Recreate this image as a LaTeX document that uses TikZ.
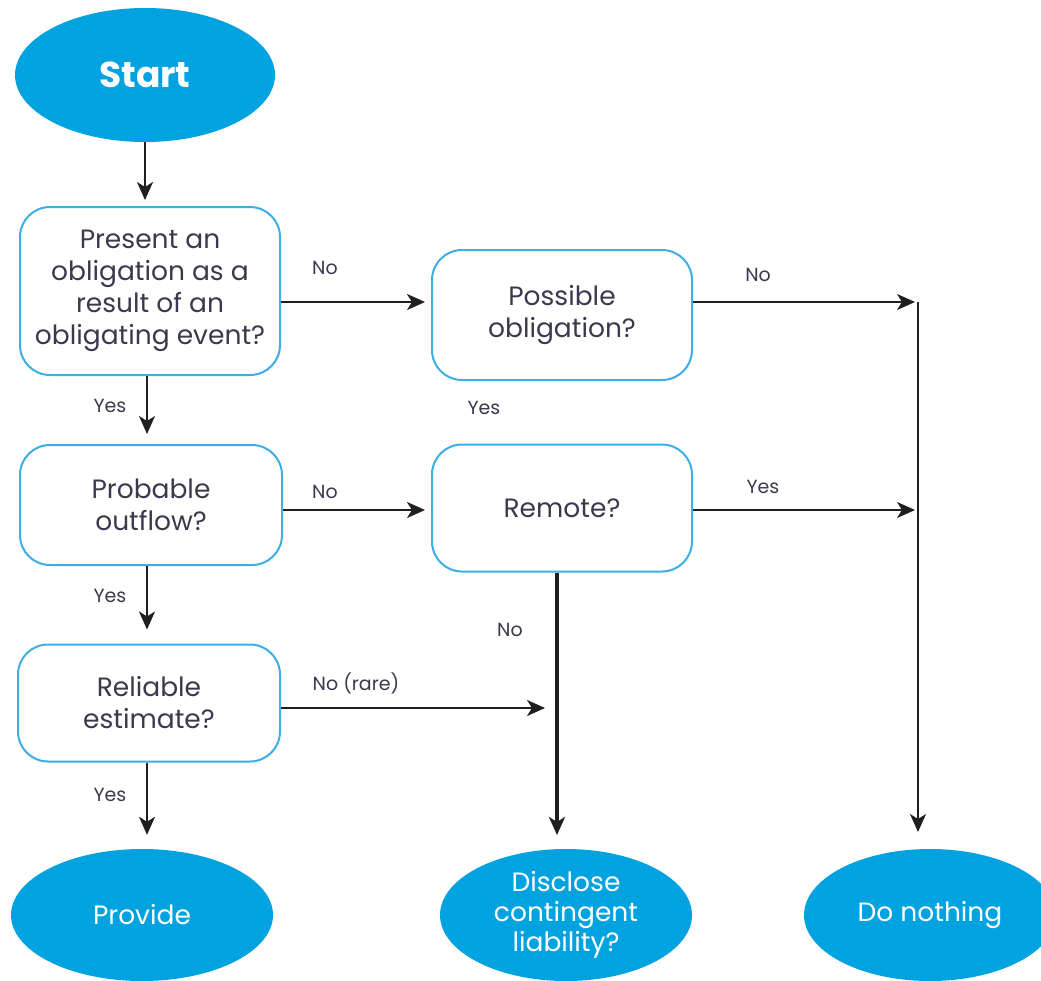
\documentclass[tikz,border=0pt]{standalone}
\usepackage{fontspec}
\setmainfont{Poppins}
\usetikzlibrary{arrows.meta,shapes.geometric}
\definecolor{cy}{HTML}{00A3DF}
\definecolor{bd}{HTML}{3DAEE6}
\definecolor{tx}{HTML}{3A3A4E}
\begin{document}
\begin{tikzpicture}[x=1pt,y=-1pt,
 term/.style={ellipse, fill=cy, text=white, inner sep=0pt, minimum width=262pt, minimum height=132pt, align=center, font=\fontsize{26.5}{30}\selectfont},
 qbox/.style={draw=bd, line width=2pt, rounded corners=30pt, fill=white, text=tx, align=center, font=\fontsize{26.5}{32}\selectfont, inner sep=0pt},
 arr/.style={draw=black!88, line width=2pt, -{Stealth[length=18pt,width=16pt,inset=5pt]}},
 lbl/.style={text=tx, font=\fontsize{19}{20}\selectfont, inner sep=0pt}]
\useasboundingbox (0,0) rectangle (1041,980);
\fill[white] (0,0) rectangle (1041,980);
\clip (0,0) rectangle (1041,980);

% terminals
\node[term, minimum width=260pt, minimum height=134pt, font=\fontsize{36}{40}\selectfont\bfseries] (start) at (145,75) {Start};
\node[term] (prov) at (142,915) {Provide};
\node[term, minimum width=252pt] (disc) at (566,915) {Disclose\\contingent\\liability?};
\node[term, minimum width=252pt] (none) at (930,915) {Do nothing};

% questions
\node[qbox, minimum width=260pt, minimum height=168pt] (q1) at (150,291) {Present an\\obligation as a\\result of an\\obligating event?};
\node[qbox, minimum width=260pt, minimum height=130pt] (q2) at (562,315) {Possible\\obligation?};
\node[qbox, minimum width=262pt, minimum height=120pt] (q3) at (151,505) {Probable\\outflow?};
\node[qbox, minimum width=260pt, minimum height=127pt] (rem) at (562,508) {Remote?};
\node[qbox, minimum width=262pt, minimum height=117pt] (q4) at (149,703) {Reliable\\estimate?};

% junction coordinates
\coordinate (r1) at (918,302);
\coordinate (r2) at (918,510);
\coordinate (r3) at (545,708);
\coordinate (rd) at (557,575);
\coordinate (c1) at (147,0);

% connectors
\draw[arr, shorten >=6pt] (start.south) -- (start.south |- q1.north);
\draw[arr, shorten >=10pt] (c1 |- q1.south) -- (c1 |- q3.north);
\draw[arr, shorten >=14pt] (c1 |- q3.south) -- (c1 |- q4.north);
\draw[arr, shorten >=14pt] (c1 |- q4.south) -- (c1 |- prov.north);

\draw[arr, shorten >=6pt] (q1.east |- r1) -- (q2.west |- r1);
\draw[arr, shorten >=3pt] (q2.east |- r1) -- (r1);
\draw[arr, shorten >=6pt] (q3.east |- r2) -- (rem.west |- r2);
\draw[arr, shorten >=3pt] (rem.east |- r2) -- (r2);
\draw[arr] (q4.east |- r3) -- (r3);

\draw[arr] (r1) -- (918,832);
\draw[arr, line width=3.5pt] (rem.south -| rd) -- (557,835);

% labels
\node[lbl] (l1) at (325,268) {No};
\node[lbl] (l2) at (758,275) {No};
\node[lbl] (l3) at (484,408) {Yes};
\node[lbl] (l4) at (110,406) {Yes};
\node[lbl] (l5) at (325,492) {No};
\node[lbl] (l6) at (763,487) {Yes};
\node[lbl] (l7) at (110,596) {Yes};
\node[lbl] (l8) at (510,630) {No};
\node[lbl] (l9) at (356,683) {No (rare)};
\node[lbl] (l10) at (110,795) {Yes};
\end{tikzpicture}
\end{document}
